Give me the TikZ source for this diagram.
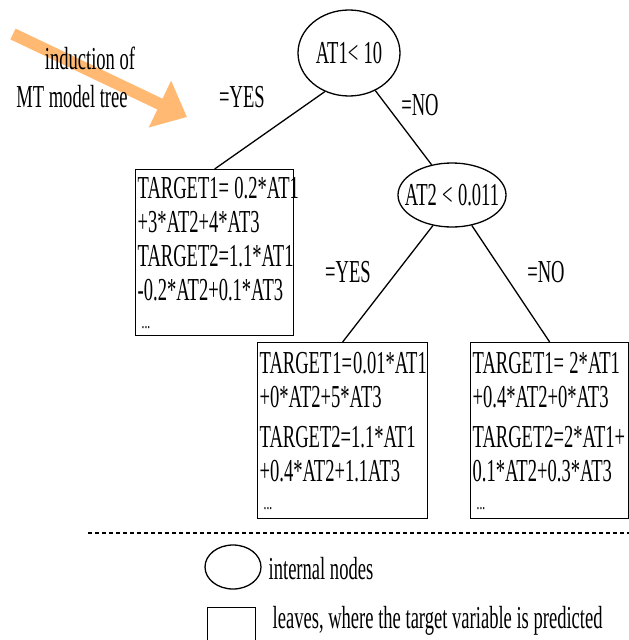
\documentclass[tikz,border=0pt]{standalone}
\usepackage{fontspec}
\setmainfont{Liberation Serif}[FakeStretch=0.58]
\usetikzlibrary{shapes.geometric,arrows.meta}
\definecolor{arroworange}{RGB}{255,185,115}

\tikzset{
    every node/.style={font=\fontsize{32}{34}\selectfont},
    split/.style={draw, ellipse, inner sep=0pt},
    leaf/.style={draw, rectangle, align=left, anchor=north west, inner xsep=2pt, inner ysep=0pt},
    hint/.style={draw=arroworange, line width=12pt, -{Triangle[length=30pt,width=50pt]}}
}
\newcommand{\etcdots}{{\fontsize{20}{20}\selectfont\hspace{4pt}...}}

\begin{document}
\begin{tikzpicture}[x=1pt, y=-1pt, line width=1.3pt]

    \useasboundingbox (0,0) rectangle (629,640);

    \coordinate (tailpt) at (13,34);
    \coordinate (tippt) at (187,117);
    \draw[hint] (tailpt) -- (tippt);
    \node (induct) at (90,58) {induction of};
    \node (mtname) at (72,97) {MT model tree};

    \node[split, minimum width=102pt, minimum height=86pt] (root) at (349,53) {\makebox[0pt]{AT1<\,10}};
    \node[split, minimum width=108pt, minimum height=64pt] (at2) at (452,195) {\makebox[0pt]{AT2\,<\,0.011}};

    \node[leaf, minimum width=158pt, minimum height=166pt, text width=154pt] (leaf1) at (135,169)
        {TARGET1=\,0.2*AT1\\ +3*AT2+4*AT3\\ TARGET2=1.1*AT1\\ -0.2*AT2+0.1*AT3\\[-6pt] \etcdots};
    \node[leaf, minimum width=170pt, minimum height=176pt, text width=166pt] (leaf2) at (257,342)
        {TARGET\kern1pt1=\kern1pt0.01*AT1\\ +0*AT2+5*AT3\\[6pt] TARGET2=1.1*AT1\\ +0.4*AT2+1.1AT3\\[-6pt] \etcdots};
    \node[leaf, minimum width=158pt, minimum height=176pt, text width=154pt] (leaf3) at (470,342)
        {TARGET1=\,2*AT1\\ +0.4*AT2+0*AT3\\[6pt] TARGET2=2*AT1+\\ 0.1*AT2+0.3*AT3\\[-6pt] \etcdots};

    \draw (root.238) -- (leaf1.north);
    \draw (root.305) -- (at2.124);
    \draw (at2.238) -- (leaf2.north);
    \draw (at2.303) -- (leaf3.north);

    \node (yes1) at (242,97) {=YES};
    \node (no1) at (420,105) {=NO};
    \node (yes2) at (348,272) {=YES};
    \node (no2) at (546,272) {=NO};

    \coordinate (sepL) at (88,533);
    \coordinate (sepR) at (629,533);
    \draw[dash pattern=on 4pt off 3pt, line width=1.5pt] (sepL) -- (sepR);

    \node[split, minimum width=56pt, minimum height=44pt] (keysplit) at (233,567) {};
    \node[anchor=west, inner sep=0pt] (keysplittext) at (268,569) {internal nodes};
    \node[draw, minimum width=48pt, minimum height=40pt, anchor=north west] (keyleaf) at (207,607) {};
    \node[anchor=west, inner sep=0pt] (keyleaftext) at (272,621) {leaves, where the target variable is predicted};

\end{tikzpicture}
\end{document}
